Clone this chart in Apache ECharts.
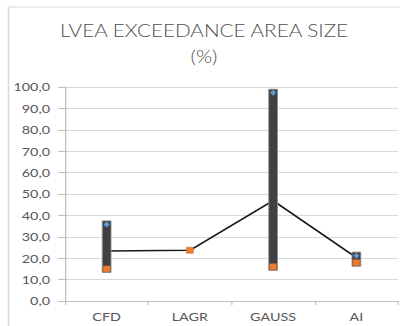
<!DOCTYPE html>
<html>
<head>
<meta charset="utf-8">
<script src="https://cdn.jsdelivr.net/npm/echarts@6/dist/echarts.min.js"></script>
<style>
  html, body { margin: 0; padding: 0; background: #ffffff; overflow: hidden; }
  #wrap { width: 400px; height: 326px; overflow: hidden; }
  #chart { height: 326px; transform-origin: 0 0; }
</style>
</head>
<body>
<div id="wrap"><div id="chart"></div></div>
<script>
// Chart data
const categories = ['CFD', 'LAGR', 'GAUSS', 'AI'];
const maxValues = [35.8, null, 97.3, 21.2];
const minValues = [15.0, 23.7, 16.0, 17.9];
const meanValues = [23.4, 23.7, 46.9, 20.3];
const yTicks = [0, 10, 20, 30, 40, 50, 60, 70, 80, 90, 100];
const titleText = 'LVEA EXCEEDANCE AREA SIZE\n(%)';

// The plot is widened horizontally by this factor; the title gets its own width factor
const SX = 1.25;
const TITLE_SX = 1.12;
const W = 400 / SX;

const el = document.getElementById('chart');
el.style.width = W + 'px';
el.style.transform = 'scaleX(' + SX + ')';

const chart = echarts.init(el, null, { renderer: 'svg' });

const FONT = 'Lato';
const TEXT = '#595959';

// high-low bar rows: [categoryIndex, low, high]
const rangeData = categories.map((c, i) => [i, minValues[i], maxValues[i]]);

chart.setOption({
  animation: false,
  backgroundColor: '#ffffff',
  graphic: [
    {
      type: 'rect',
      shape: { x: 6.8, y: 7, width: W + 20, height: 400 },
      style: { fill: 'none', stroke: '#d9d9d9', lineWidth: 1.2 },
      silent: true,
      z: -1
    },
    {
      type: 'text',
      x: 204 / SX,
      y: 17,
      scaleX: TITLE_SX / SX,
      silent: true,
      style: {
        text: titleText,
        fontFamily: FONT,
        fontSize: 18.5,
        fontWeight: 300,
        fill: '#505050',
        lineHeight: 26,
        align: 'center',
        verticalAlign: 'top'
      }
    }
  ],
  grid: { left: 52, right: 1.6, top: 87, bottom: 25, containLabel: false },
  xAxis: {
    type: 'category',
    data: categories,
    boundaryGap: true,
    axisLine: { show: true, lineStyle: { color: '#bfbfbf', width: 1 } },
    axisTick: { show: true, length: 4, alignWithLabel: false, lineStyle: { color: '#bfbfbf' } },
    axisLabel: { color: TEXT, fontFamily: FONT, fontSize: 11.5, margin: 10 },
    splitLine: { show: false }
  },
  yAxis: {
    type: 'value',
    min: yTicks[0],
    max: yTicks[yTicks.length - 1],
    interval: yTicks[1] - yTicks[0],
    axisLine: { show: true, lineStyle: { color: '#bfbfbf', width: 1 } },
    axisTick: { show: true, length: 5.6, lineStyle: { color: '#bfbfbf' } },
    axisLabel: {
      color: TEXT, fontFamily: FONT, fontSize: 11.5, margin: 12,
      formatter: v => v.toFixed(1).replace('.', ',')
    },
    splitLine: { show: true, lineStyle: { color: '#d9d9d9', width: 1 } }
  },
  series: [
    {
      name: 'Mean',
      type: 'line',
      data: meanValues,
      showSymbol: false,
      symbol: 'none',
      lineStyle: { color: '#1a1a1a', width: 1.5 },
      z: 1
    },
    {
      name: 'Range',
      type: 'custom',
      data: rangeData,
      encode: { x: 0, y: [1, 2] },
      renderItem: (params, api) => {
        const hi = api.value(2);
        const lo = api.value(1);
        if (hi == null || isNaN(hi) || lo == null || isNaN(lo)) return null;
        const top = api.coord([api.value(0), hi]);
        const bot = api.coord([api.value(0), lo]);
        const bw = 7;
        const pad = 3.5;
        return {
          type: 'rect',
          shape: { x: top[0] - bw / 2, y: top[1] - pad, width: bw, height: bot[1] - top[1] + 2 * pad },
          style: { fill: '#404040', stroke: '#8c8c8c', lineWidth: 0.8 }
        };
      },
      z: 2
    },
    {
      name: 'Max',
      type: 'line',
      data: maxValues,
      symbol: 'diamond',
      symbolSize: [5, 6],
      lineStyle: { opacity: 0 },
      itemStyle: { color: '#5b9bd5' },
      z: 3
    },
    {
      name: 'Min',
      type: 'line',
      data: minValues,
      symbol: 'rect',
      symbolSize: [5.6, 6],
      lineStyle: { opacity: 0 },
      itemStyle: { color: '#ed7d31', borderColor: '#c9692a', borderWidth: 0.5 },
      z: 3
    }
  ]
});
</script>
</body>
</html>
